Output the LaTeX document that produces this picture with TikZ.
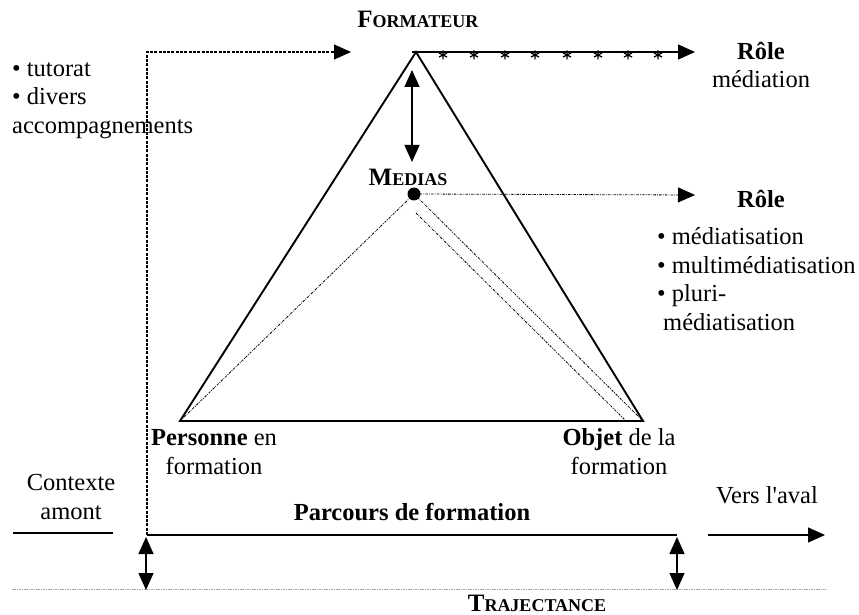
\documentclass[tikz,border=0pt]{standalone}
\usepackage{fontspec}
\setmainfont{Liberation Serif}
% same face without the TeX quote mapping, for a straight apostrophe
\newfontfamily\straightserif{Liberation Serif}[Ligatures=ResetAll]
\usetikzlibrary{arrows.meta}
% bold small capitals built from two sizes
\newcommand{\boldsc}[2]{\textbf{{\fontsize{25}{28}\selectfont #1}{\fontsize{18}{22}\selectfont #2}}}
\begin{document}
\begin{tikzpicture}[x=1pt,y=-1pt,
  lbl/.style={inner sep=0pt, font=\fontsize{24.5}{28.5}\selectfont},
  heavy/.style={line width=1.9pt},
  headend/.style={-{Triangle[length=17pt,width=15pt]}},
  twoheads/.style={{Triangle[length=17pt,width=15pt]}-{Triangle[length=17pt,width=15pt]}},
  dashline/.style={line width=1.1pt, dash pattern=on 3pt off 1.3pt},
  dotline/.style={line width=0.8pt, dash pattern=on 2.5pt off 1.2pt on 0.8pt off 1.2pt},
  faintline/.style={line width=1pt, gray!70, dash pattern=on 1.6pt off 0.8pt},
  starmark/.style={line width=1.3pt}]
\useasboundingbox (0,0) rectangle (859,615);

% triangle corners and media point
\coordinate (F) at (416,52);
\coordinate (P) at (180,421);
\coordinate (O) at (643,421);
\coordinate (M) at (414,194);
\coordinate (Min) at (416,213);
\coordinate (Oin) at (626,421);

% outer triangle
\draw[heavy, line join=miter] (F) -- (P) -- (O) -- cycle;
\coordinate (Fl) at (412,52);
\draw[heavy] (Fl) -- (F);

% inner (media) triangle, dotted
\draw[dotline] (P) -- (M) -- (O);
\draw[dotline] (Min) -- (Oin);
\fill (M) circle (6.5pt);

% labels of the corners (multi-line nodes sit on their last baseline)
\node[lbl, anchor=base] (form) at (418,28) {\boldsc{F}{ORMATEUR}};
\node[lbl, anchor=base] (med) at (408,185) {\boldsc{M}{EDIAS}};
\node[lbl, anchor=base, align=center] (pers) at (214,474) {\textbf{Personne} en\\formation};
\node[lbl, anchor=base, align=center] (obj) at (619,474) {\textbf{Objet} de la\\formation};

% formateur <-> medias
\coordinate (a1) at (412,70);
\coordinate (a2) at (412,162);
\draw[line width=1.3pt, twoheads] (a1) -- (a2);

% role of the formateur
\coordinate (r1) at (695,52);
\draw[line width=1.3pt, headend] (F) -- (r1);
\foreach \sx in {443,474,505,535,567,598,628,658}{
  \draw[starmark] (\sx,50.5) -- (\sx,59.5)
                  (\sx-4,53) -- (\sx+4,57)
                  (\sx-4,57) -- (\sx+4,53);
}
\node[lbl, anchor=base, align=center] (role1) at (761,88) {\textbf{Rôle}\\médiation};

% role of the medias
\coordinate (r2) at (695,195);
\draw[dotline, headend] (M) -- (r2);
\node[lbl, anchor=base] (role2) at (761,207) {\textbf{Rôle}};
\node[lbl, anchor=base west, align=left] (list2) at (657,330)
  {• médiatisation\\• multimédiatisation\\• pluri-\\\hspace*{6pt}médiatisation};

% tutoring path
\coordinate (t0) at (147,535);
\coordinate (t1) at (147,52);
\coordinate (t2) at (351,52);
\draw[dashline, headend] (t0) -- (t1) -- (t2);
\node[lbl, anchor=base west, align=left] (tut) at (12,133)
  {• tutorat\\• divers\\accompagnements};

% training path
\coordinate (p0) at (147,535);
\coordinate (p1) at (677,535);
\draw[heavy] (p0) -- (p1);
\node[lbl, anchor=base] (parc) at (412,520) {\textbf{Parcours de formation}};

% trajectance line
\coordinate (g0) at (12,589);
\coordinate (g1) at (827,589);
\draw[faintline] (g0) -- (g1);
\coordinate (d0) at (146,537);
\coordinate (d1) at (146,590);
\coordinate (e0) at (677,537);
\coordinate (e1) at (677,590);
\draw[line width=1.2pt, twoheads] (d0) -- (d1);
\draw[line width=1.2pt, twoheads] (e0) -- (e1);
\node[lbl, anchor=base] (traj) at (537,611) {\boldsc{T}{RAJECTANCE}};

% upstream context
\node[lbl, anchor=base, align=center] (ctx) at (71,519) {Contexte\\amont};
\coordinate (c0) at (13,533);
\coordinate (c1) at (113,533);
\draw[line width=1.6pt] (c0) -- (c1);

% downstream
\node[lbl, anchor=base] (aval) at (767,503) {Vers l{\straightserif '}aval};
\coordinate (v0) at (708,535);
\coordinate (v1) at (825,535);
\draw[line width=1.3pt, headend] (v0) -- (v1);
\end{tikzpicture}
\end{document}
